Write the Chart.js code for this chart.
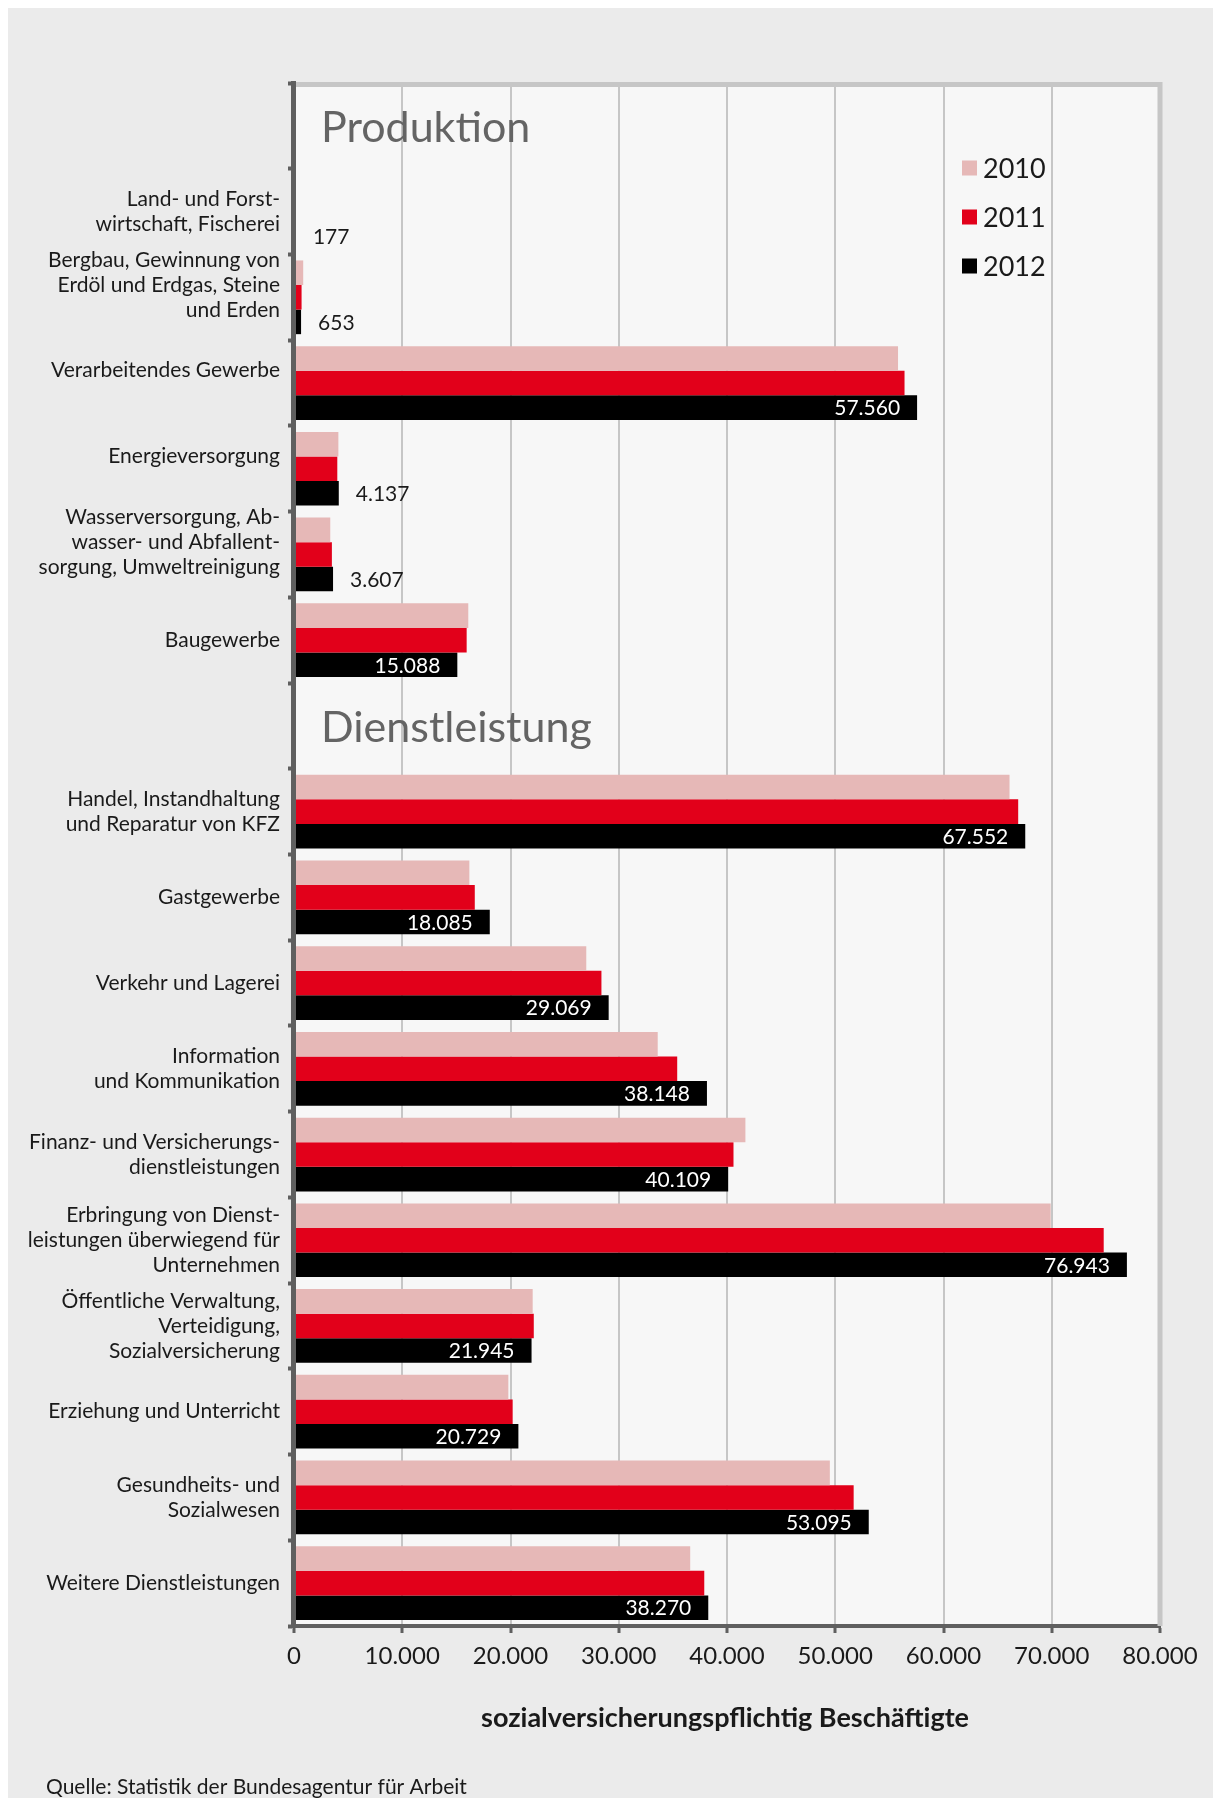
<!DOCTYPE html>
<html><head><meta charset="utf-8">
<script src="https://cdn.jsdelivr.net/npm/chart.js@4.4.1/dist/chart.umd.min.js"></script>
<style>html,body{margin:0;padding:0;background:#fff;}#wrap{width:1213px;height:1798px;position:relative;}canvas{display:block;}</style>
</head><body><div id="wrap"><canvas id="c" width="1213" height="1798"></canvas></div>
<script>
const categories = [
  '',
  ['Land- und Forst-', 'wirtschaft, Fischerei'],
  ['Bergbau, Gewinnung von', 'Erdöl und Erdgas, Steine', 'und Erden', ''],
  ['Verarbeitendes Gewerbe', ''],
  ['Energieversorgung', ''],
  ['Wasserversorgung, Ab-', 'wasser- und Abfallent-', 'sorgung, Umweltreinigung', ''],
  'Baugewerbe',
  '',
  ['Handel, Instandhaltung', 'und Reparatur von KFZ'],
  'Gastgewerbe',
  'Verkehr und Lagerei',
  ['Information', 'und Kommunikation'],
  ['Finanz- und Versicherungs-', 'dienstleistungen'],
  ['Erbringung von Dienst-', 'leistungen überwiegend für', 'Unternehmen'],
  ['Öffentliche Verwaltung,', 'Verteidigung,', 'Sozialversicherung'],
  'Erziehung und Unterricht',
  ['Gesundheits- und', 'Sozialwesen'],
  'Weitere Dienstleistungen'
];
const values2010 = [null, 180, 850, 55800, 4100, 3350, 16100, null, 66100, 16200, 27000, 33600, 41700, 69900, 22050, 19800, 49500, 36600];
const values2011 = [null, 180, 700, 56400, 4000, 3500, 15950, null, 66900, 16700, 28400, 35400, 40600, 74800, 22150, 20200, 51700, 37900];
const values2012 = [null, 177, 653, 57560, 4137, 3607, 15088, null, 67552, 18085, 29069, 38148, 40109, 76943, 21945, 20729, 53095, 38270];
const seriesNames = ['2010', '2011', '2012'];
const seriesColors = ['#e6b8b7', '#e2001a', '#000000'];
const sectionTitles = [{ index: 0, text: 'Produktion' }, { index: 7, text: 'Dienstleistung' }];
const axisTitle = 'sozialversicherungspflichtig Beschäftigte';
const sourceText = 'Quelle: Statistik der Bundesagentur für Arbeit';

const FONT = 'Lato, "Open Sans", sans-serif';
function fmt(v) { return String(Math.round(v)).replace(/\B(?=(\d{3})+(?!\d))/g, '.'); }

const bgPlugin = {
  id: 'bg',
  beforeDraw(chart) {
    const { ctx, chartArea: a, width, height } = chart;
    ctx.save();
    ctx.fillStyle = '#ffffff'; ctx.fillRect(0, 0, width, height);
    ctx.fillStyle = '#ebebeb'; ctx.fillRect(8, 8, width - 8, height - 8);
    ctx.fillStyle = '#f7f7f7'; ctx.fillRect(a.left, a.top, a.right - a.left, a.bottom - a.top);
    ctx.restore();
  },
  beforeDatasetsDraw(chart) {
    const { ctx, chartArea: a } = chart;
    ctx.save();
    ctx.strokeStyle = '#c6c6c6'; ctx.lineWidth = 5;
    ctx.beginPath();
    ctx.moveTo(a.left, a.top + 1.5); ctx.lineTo(a.right + 2.5, a.top + 1.5);
    ctx.moveTo(a.right, a.top); ctx.lineTo(a.right, a.bottom);
    ctx.stroke();
    const y = chart.scales.y;
    ctx.fillStyle = '#646464';
    ctx.font = '43px ' + FONT;
    ctx.textAlign = 'left'; ctx.textBaseline = 'alphabetic';
    sectionTitles.forEach(s => {
      ctx.fillText(s.text, a.left + 27, y.getPixelForValue(s.index) + 16);
    });
    ctx.restore();
  },
  afterDatasetsDraw(chart) {
    const { ctx, chartArea: a } = chart;
    ctx.save();
    ctx.strokeStyle = '#5f5f5f'; ctx.lineWidth = 5;
    ctx.beginPath(); ctx.moveTo(a.left - 0.5, a.top - 2); ctx.lineTo(a.left - 0.5, a.bottom + 2); ctx.stroke();
    const meta = chart.getDatasetMeta(2);
    ctx.font = '21px ' + FONT;
    ctx.textBaseline = 'middle';
    meta.data.forEach((bar, i) => {
      const v = values2012[i];
      if (v == null) return;
      const t = fmt(v);
      if (v > 10000) {
        ctx.fillStyle = '#ffffff'; ctx.textAlign = 'right';
        ctx.fillText(t, bar.x - 17, bar.y + 1);
      } else {
        ctx.fillStyle = '#1a1a1a'; ctx.textAlign = 'left';
        ctx.fillText(t, bar.x + 17, bar.y + 1);
      }
    });
    ctx.font = '27px ' + FONT;
    ctx.textAlign = 'left';
    seriesNames.forEach((n, k) => {
      const cy = a.top + 85 + k * 49;
      ctx.fillStyle = seriesColors[k];
      ctx.fillRect(a.right - 198, cy - 7.5, 15, 15);
      ctx.fillStyle = '#1a1a1a';
      ctx.fillText(n, a.right - 177, cy + 1);
    });
    ctx.font = 'bold 27px ' + FONT;
    ctx.textAlign = 'center';
    ctx.fillText(axisTitle, (a.left + a.right) / 2 - 2, a.bottom + 92);
    ctx.font = '21px ' + FONT;
    ctx.textAlign = 'left';
    ctx.fillText(sourceText, 46, 1787);
    ctx.restore();
  }
};

new Chart(document.getElementById('c'), {
  type: 'bar',
  data: {
    labels: categories,
    datasets: [
      { label: seriesNames[0], data: values2010, backgroundColor: seriesColors[0] },
      { label: seriesNames[1], data: values2011, backgroundColor: seriesColors[1] },
      { label: seriesNames[2], data: values2012, backgroundColor: seriesColors[2] }
    ]
  },
  options: {
    indexAxis: 'y',
    responsive: false,
    animation: false,
    devicePixelRatio: 1,
    layout: { padding: { left: 0, right: 53, top: 83, bottom: 0 } },
    datasets: { bar: { categoryPercentage: 0.86, barPercentage: 1.0, borderWidth: 0 } },
    plugins: { legend: { display: false }, tooltip: { enabled: false } },
    scales: {
      x: {
        type: 'linear', min: 0, max: 80000,
        ticks: { stepSize: 10000, callback: v => fmt(v), color: '#1a1a1a', font: { family: FONT, size: 24 }, padding: 9, maxRotation: 0 },
        grid: { color: '#c6c6c6', lineWidth: 2, tickColor: '#5f5f5f', tickLength: 7, tickWidth: 3 },
        border: { color: '#5f5f5f', width: 4 },
        afterFit(s) { s.height = 172; }
      },
      y: {
        type: 'category',
        ticks: { autoSkip: false, color: '#1a1a1a', font: { family: FONT, size: 21, lineHeight: 1.19 }, padding: 8 },
        grid: { drawOnChartArea: false, tickColor: '#5f5f5f', tickLength: 6, tickWidth: 4, offset: true },
        border: { color: '#5f5f5f', width: 4 },
        afterFit(s) { s.width = 294; }
      }
    }
  },
  plugins: [bgPlugin]
});
</script></body></html>
